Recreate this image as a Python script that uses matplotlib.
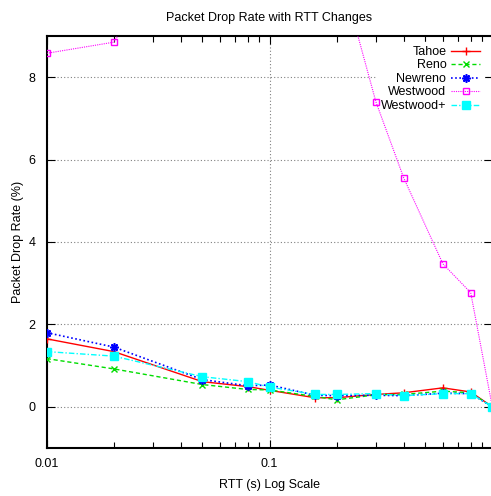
import matplotlib
matplotlib.use("Agg")
import matplotlib.pyplot as plt

rtt = [0.01, 0.02, 0.05, 0.08, 0.1, 0.16, 0.2, 0.3, 0.4, 0.6, 0.8, 1.0]
tahoe = [1.65, 1.34, 0.61, 0.49, 0.40, 0.22, 0.22, 0.30, 0.34, 0.46, 0.36, 0.0]
reno = [1.17, 0.92, 0.54, 0.42, 0.41, 0.25, 0.17, 0.29, 0.30, 0.38, 0.34, 0.0]
newreno = [1.80, 1.45, 0.66, 0.51, 0.53, 0.28, 0.27, 0.28, 0.27, 0.33, 0.32, 0.0]
westwood = [8.58, 8.85, 12.3, 13.0, 12.5, 11.5, 10.9, 7.41, 5.56, 3.47, 2.77, 0.0]
westwood_plus = [1.34, 1.23, 0.73, 0.61, 0.48, 0.30, 0.30, 0.32, 0.27, 0.32, 0.32, 0.0]

xticks = [0.01, 0.1, 1.0]
xticklabels = ["0.01", "0.1", ""]
yticks = [0, 2, 4, 6, 8]
yticklabels = ["0", "2", "4", "6", "8"]

plt.rcParams["font.family"] = ["Liberation Sans", "DejaVu Sans"]

fig = plt.figure(figsize=(4.91, 4.96), dpi=100)
ax = fig.add_axes([46.7 / 491, 48 / 496, (492.3 - 46.7) / 491, 412 / 496])

ax.plot(rtt, tahoe, color="#ff0000", ls="-", lw=1.0, marker="+", ms=6, mew=1.0, label="Tahoe", zorder=3)
ax.plot(rtt, reno, color="#00dd00", ls=(0, (3, 2)), lw=1.0, marker="x", ms=5, mew=1.0, label="Reno", zorder=3)
ax.plot(rtt, newreno, color="#0000ff", ls=(0, (1, 1.5)), lw=1.2, marker=(8, 2, 0), ms=6, mew=1.2, label="Newreno", zorder=3)
ax.plot(rtt, westwood, color="#ff00ff", ls=(0, (1, 1)), lw=0.8, marker="s", ms=5, mfc="none", mew=1.0, label="Westwood", zorder=3)
ax.plot(rtt, westwood_plus, color="#00ffff", ls=(0, (4, 1.5, 1, 1.5)), lw=1.0, marker="s", ms=6, label="Westwood+", zorder=3)

ax.set_xscale("log")
ax.set_xlim(0.01, 1.0)
ax.set_ylim(-1, 9)
ax.set_xticks(xticks)
ax.set_xticklabels(xticklabels)
ax.set_yticks(yticks)
ax.set_yticklabels(yticklabels)
ax.tick_params(which="both", direction="in", top=True, right=True, labelsize=9)
ax.tick_params(axis="x", pad=7)
ax.tick_params(axis="y", pad=8)
ax.tick_params(which="major", length=6, width=0.8)
ax.tick_params(which="minor", length=4, width=0.8)
ax.xaxis.set_minor_formatter(matplotlib.ticker.NullFormatter())

ax.grid(True, which="major", color="#808080", ls=(0, (1, 2)), lw=0.8)
for s in ax.spines.values():
    s.set_linewidth(1.5)

ax.set_title("Packet Drop Rate with RTT Changes", fontsize=9, pad=11)
ax.set_xlabel("RTT (s) Log Scale", fontsize=9, labelpad=7)
ax.set_ylabel("Packet Drop Rate (%)", fontsize=9, labelpad=3)

leg = ax.legend(loc="upper right", bbox_to_anchor=(0.995, 1.0), frameon=True, fontsize=9,
                markerfirst=False, handlelength=2.3, handletextpad=0.4, labelspacing=0.12,
                borderpad=0.3, fancybox=False, framealpha=1)
leg.get_frame().set_edgecolor("white")
leg.set_zorder(2)

fig.savefig("out.png", dpi=100)
